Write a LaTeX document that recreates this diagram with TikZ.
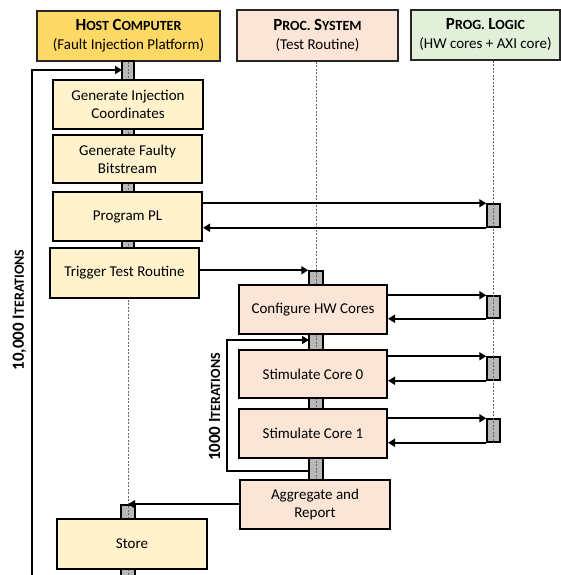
\documentclass[tikz,border=0pt]{standalone}
\usepackage{fontspec}
\setmainfont{Carlito}
\usetikzlibrary{arrows.meta}

\newcommand{\tit}[2]{{\fontsize{17}{20}\selectfont\bfseries #1{\fontsize{14}{16}\selectfont #2}}}
\newcommand{\iter}[1]{{\fontsize{17}{20}\selectfont\bfseries #1 I{\fontsize{14}{16}\selectfont TERATIONS}}}

\tikzset{
  hdr/.style={draw=black!85, line width=1.4pt, minimum height=50pt, align=center, inner sep=0pt},
  hostbox/.style={draw, line width=2pt, fill=hostfill, minimum width=149pt, minimum height=49pt, align=center, inner sep=0pt},
  psbox/.style={hostbox, fill=psfill, minimum width=148pt},
  bar/.style={draw, line width=1.5pt, fill=black!28, minimum width=13pt, inner sep=0pt},
  life/.style={draw=black!60, line width=0.9pt, dash pattern=on 2pt off 1.5pt},
  arr/.style={line width=2pt, -{Triangle[length=7pt,width=8pt]}}
}
\definecolor{hostfill}{HTML}{FFF2CC}
\definecolor{hosthdr}{HTML}{FFD966}
\definecolor{psfill}{HTML}{FBE5D6}
\definecolor{plfill}{HTML}{E2F0D9}

\begin{document}
\begin{tikzpicture}[x=1pt, y=-1pt, font=\fontsize{15}{18}\selectfont]
  \useasboundingbox[fill=white] (0,0) rectangle (561,575);

  % Hlavičky sloupců
  \node[hdr, fill=hosthdr, minimum width=183pt] (hhost) at (128.5,36)
    {\tit{H}{OST} \tit{C}{OMPUTER}\\[1pt](Fault Injection Platform)};
  \node[hdr, fill=psfill, minimum width=161pt, minimum height=51pt] (hps) at (317.5,35.5)
    {\tit{P}{ROC.} \tit{S}{YSTEM}\\[1pt](Test Routine)};
  \node[hdr, fill=plfill, minimum width=149pt] (hpl) at (485.5,35)
    {\tit{P}{ROG.} \tit{L}{OGIC}\\[1pt](HW cores + AXI core)};

  % Aktivace
  \node[bar, minimum width=12pt, minimum height=199pt] (hb1) at (128,160.5) {};
  \node[bar, minimum width=14pt, minimum height=219pt] (psb) at (316,380.5) {};
  \node[bar, minimum height=23pt] (plb1) at (493.5,215.5) {};
  \node[bar, minimum height=22pt] (plb2) at (493.5,307) {};
  \node[bar, minimum height=23pt] (plb3) at (493.5,368.5) {};
  \node[bar, minimum height=23pt] (plb4) at (493.5,430.5) {};
  \node[bar, minimum width=14pt, minimum height=80pt] (stb) at (128,545) {};

  % Čáry života
  \coordinate (hend) at (128,575);
  \draw[life] (hb1 |- hhost.south) -- (hend);
  \draw[life] (psb |- hps.south) -- (psb.south);
  \draw[life] (plb1 |- hpl.south) -- (plb4.south);

  % Kroky - hostitel
  \node[hostbox, minimum width=150pt] (gic) at (128,104.5) {Generate Injection\\Coordinates};
  \node[hostbox, minimum height=48pt] (gfb) at (127.5,159) {Generate Faulty\\Bitstream};
  \node[hostbox] (ppl) at (127.5,216.5) {Program PL};
  \node[hostbox, minimum height=50pt] (ttr) at (124.5,273) {Trigger Test Routine};
  \node[hostbox, minimum width=150pt, minimum height=50pt] (sto) at (132,544) {Store};

  % Kroky - procesor
  \node[psbox] (chw) at (313,309.5) {Configure HW Cores};
  \node[psbox, minimum height=48pt] (sc0) at (313,374) {Stimulate Core 0};
  \node[psbox] (sc1) at (313,433.5) {Stimulate Core 1};
  \node[psbox, minimum width=150pt] (agr) at (315,504.5) {Aggregate and\\Report};

  % Zprávy
  \draw[arr] (ppl.east |- plb1.north) -- (plb1.north west);
  \draw[arr] (plb1.south west) -- (ppl.east |- plb1.south);
  \draw[arr] (ttr.east |- psb.north) -- (psb.north west);
  \draw[arr] (chw.east |- plb2.north) -- (plb2.north west);
  \draw[arr] (plb2.south west) -- (chw.east |- plb2.south);
  \draw[arr] (sc0.east |- plb3.north) -- (plb3.north west);
  \draw[arr] (plb3.south west) -- (sc0.east |- plb3.south);
  \draw[arr] (sc1.east |- plb4.north) -- (plb4.north west);
  \draw[arr] (plb4.south west) -- (sc1.east |- plb4.south);
  \draw[arr] (agr.west |- stb.north) -- (stb.north);

  % Smyčky
  \coordinate (it1a) at (309,471);
  \coordinate (it1b) at (309,340);
  \draw[arr] (it1a) -- ++(-82,0) |- (it1b);
  \node[rotate=90] (it1) at (214.5,407) {\iter{1000}};

  \coordinate (it10a) at (32,575);
  \coordinate (it10b) at (122,70);
  \draw[arr] (it10a) |- (it10b);
  \node[rotate=90] (it10) at (19.5,310) {\iter{10,000}};
\end{tikzpicture}
\end{document}
